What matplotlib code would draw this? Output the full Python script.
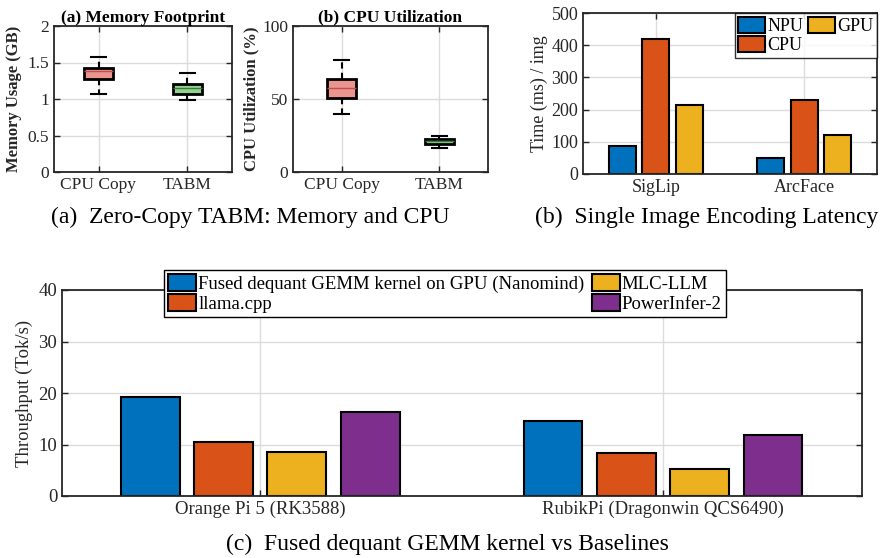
import matplotlib
matplotlib.use("Agg")
import matplotlib.pyplot as plt

plt.rcParams['font.family'] = ['Liberation Serif', 'DejaVu Serif']

# ---------------- data ----------------
box_groups = ["CPU Copy", "TABM"]
# memory footprint (GB): whislo, q1, med, q3, whishi
mem_cpu_copy = [1.07, 1.27, 1.38, 1.43, 1.57]
mem_tabm = [0.98, 1.07, 1.145, 1.205, 1.36]
# CPU utilization (%)
util_cpu_copy = [40.0, 50.9, 57.3, 63.9, 76.6]
util_tabm = [16.1, 19.3, 20.9, 22.5, 25.0]

enc_models = ["SigLip", "ArcFace"]
enc_npu = [87, 50]
enc_cpu = [420, 230]
enc_gpu = [215, 120]

devices = ["Orange Pi 5 (RK3588)", "RubikPi (Dragonwin QCS6490)"]
tp_nanomind = [19.3, 14.5]
tp_llamacpp = [10.5, 8.4]
tp_mlc = [8.5, 5.3]
tp_powerinfer = [16.4, 11.8]

# ---------------- style ----------------
C_BLUE = "#0072BD"
C_ORANGE = "#D95319"
C_YELLOW = "#EDB120"
C_PURPLE = "#7E2F8E"
AX_COL = "#262626"
GRID_COL = "#dcdcdc"

W, H = 883, 558
fig = plt.figure(figsize=(W / 100, H / 100), dpi=100)


def px_axes(l, t, r, b):
    return fig.add_axes([l / W, 1 - b / H, (r - l) / W, (b - t) / H])


def style_axes(ax, fs):
    for s in ax.spines.values():
        s.set_color(AX_COL)
        s.set_linewidth(1.3)
    ax.tick_params(direction="in", length=4, width=1.0, colors=AX_COL,
                   labelsize=fs, top=True, right=True, labelcolor=AX_COL)
    ax.grid(True, color=GRID_COL, linewidth=1.0)
    ax.set_axisbelow(True)


def stats(name, v):
    return dict(label=name, whislo=v[0], q1=v[1], med=v[2], q3=v[3],
                whishi=v[4], fliers=[])


def draw_box(ax, data_list, width):
    fills = ["#EA9590", "#93D193"]
    meds = ["#C0504D", "#3A7D3A"]
    st = [stats(n, v) for n, v in zip(box_groups, data_list)]
    bp = ax.bxp(st, positions=[1, 2], widths=width, patch_artist=True,
                showfliers=False,
                boxprops=dict(edgecolor="black", linewidth=2.0),
                whiskerprops=dict(color="black", linewidth=1.5,
                                  linestyle=(0, (3, 2))),
                capprops=dict(color="black", linewidth=1.5),
                medianprops=dict(linewidth=1.0))
    for patch, fc in zip(bp["boxes"], fills):
        patch.set_facecolor(fc)
    for m, mc in zip(bp["medians"], meds):
        m.set_color(mc)
    ax.set_xlim(0.5, 2.5)


# ---------------- panel a1 ----------------
ax1 = px_axes(54, 26, 232, 172)
style_axes(ax1, 12.5)
draw_box(ax1, [mem_cpu_copy, mem_tabm], 0.32)
ax1.set_ylim(0, 2)
ax1.set_yticks([0, 0.5, 1, 1.5, 2])
ax1.set_yticklabels(["0", "0.5", "1", "1.5", "2"])
ax1.set_ylabel("Memory Usage (GB)", fontsize=12, fontweight="bold",
               color=AX_COL, labelpad=4)
ax1.set_title("(a) Memory Footprint", fontsize=12.5, fontweight="bold",
              pad=3)

# ---------------- panel a2 ----------------
ax2 = px_axes(293, 26, 488, 172)
style_axes(ax2, 12.5)
draw_box(ax2, [util_cpu_copy, util_tabm], 0.3)
ax2.set_ylim(0, 100)
ax2.set_yticks([0, 50, 100])
ax2.set_ylabel("CPU Utilization (%)", fontsize=12, fontweight="bold",
               color=AX_COL, labelpad=2)
ax2.set_title("(b) CPU Utilization", fontsize=12.5, fontweight="bold", pad=3)

# ---------------- panel b ----------------
axb = px_axes(583, 13, 877, 174)
style_axes(axb, 13)
xs = [1, 2]
bw = 0.18
off = 0.225
axb.bar([x - off for x in xs], enc_npu, bw, color=C_BLUE,
        edgecolor="black", linewidth=1.5, label="NPU")
axb.bar(xs, enc_cpu, bw, color=C_ORANGE, edgecolor="black",
        linewidth=1.5, label="CPU")
axb.bar([x + off for x in xs], enc_gpu, bw, color=C_YELLOW,
        edgecolor="black", linewidth=1.5, label="GPU")
axb.set_xlim(0.51, 2.49)
axb.set_ylim(0, 500)
axb.set_xticks(xs)
axb.set_xticklabels(enc_models)
axb.set_yticks([0, 100, 200, 300, 400, 500])
axb.set_ylabel("Time (ms) / img", fontsize=13, color=AX_COL, labelpad=2)
leg = axb.legend(loc="upper right", ncol=2, fontsize=13, frameon=True,
                 fancybox=False, borderaxespad=0, handlelength=1.5,
                 handleheight=1.0, handletextpad=0.1, columnspacing=0.3,
                 borderpad=0.2, labelspacing=0.05)
leg.get_frame().set_edgecolor("black")
leg.get_frame().set_linewidth(1.0)

# ---------------- panel c ----------------
axc = px_axes(62, 290, 862, 496)
style_axes(axc, 13.5)
wc = 0.146
offs = [-0.273, -0.091, 0.091, 0.273]
series = [(tp_nanomind, C_BLUE, "Fused dequant GEMM kernel on GPU (Nanomind)"),
          (tp_llamacpp, C_ORANGE, "llama.cpp"),
          (tp_mlc, C_YELLOW, "MLC-LLM"),
          (tp_powerinfer, C_PURPLE, "PowerInfer-2")]
for (vals, col, lab), o in zip(series, offs):
    axc.bar([x + o for x in xs], vals, wc, color=col, edgecolor="black",
            linewidth=1.5, label=lab)
axc.set_xlim(0.508, 2.494)
axc.set_ylim(0, 40)
axc.set_xticks(xs)
axc.set_xticklabels(devices, fontsize=13.5)
axc.set_yticks([0, 10, 20, 30, 40])
axc.set_ylabel("Throughput (Tok/s)", fontsize=13.5, color=AX_COL, labelpad=4)
legc = axc.legend(loc="upper center", bbox_to_anchor=(445 / W, 1 - 261 / H),
                  bbox_transform=fig.transFigure, ncol=2, fontsize=13.5,
                  frameon=True, fancybox=False, handlelength=1.5,
                  handleheight=1.0, handletextpad=0.1, columnspacing=0.4,
                  borderpad=0.2, labelspacing=0.05, framealpha=1)
legc.get_frame().set_edgecolor("black")
legc.get_frame().set_linewidth(1.0)

# ---------------- captions ----------------
fig.text(250 / W, 1 - 217 / H, "(a)  Zero-Copy TABM: Memory and CPU",
         ha="center", va="center", fontsize=17)
fig.text(707 / W, 1 - 217 / H, "(b)  Single Image Encoding Latency",
         ha="center", va="center", fontsize=17)
fig.text(447 / W, 1 - 544 / H, "(c)  Fused dequant GEMM kernel vs Baselines",
         ha="center", va="center", fontsize=17)

fig.savefig("out.png", dpi=100)
